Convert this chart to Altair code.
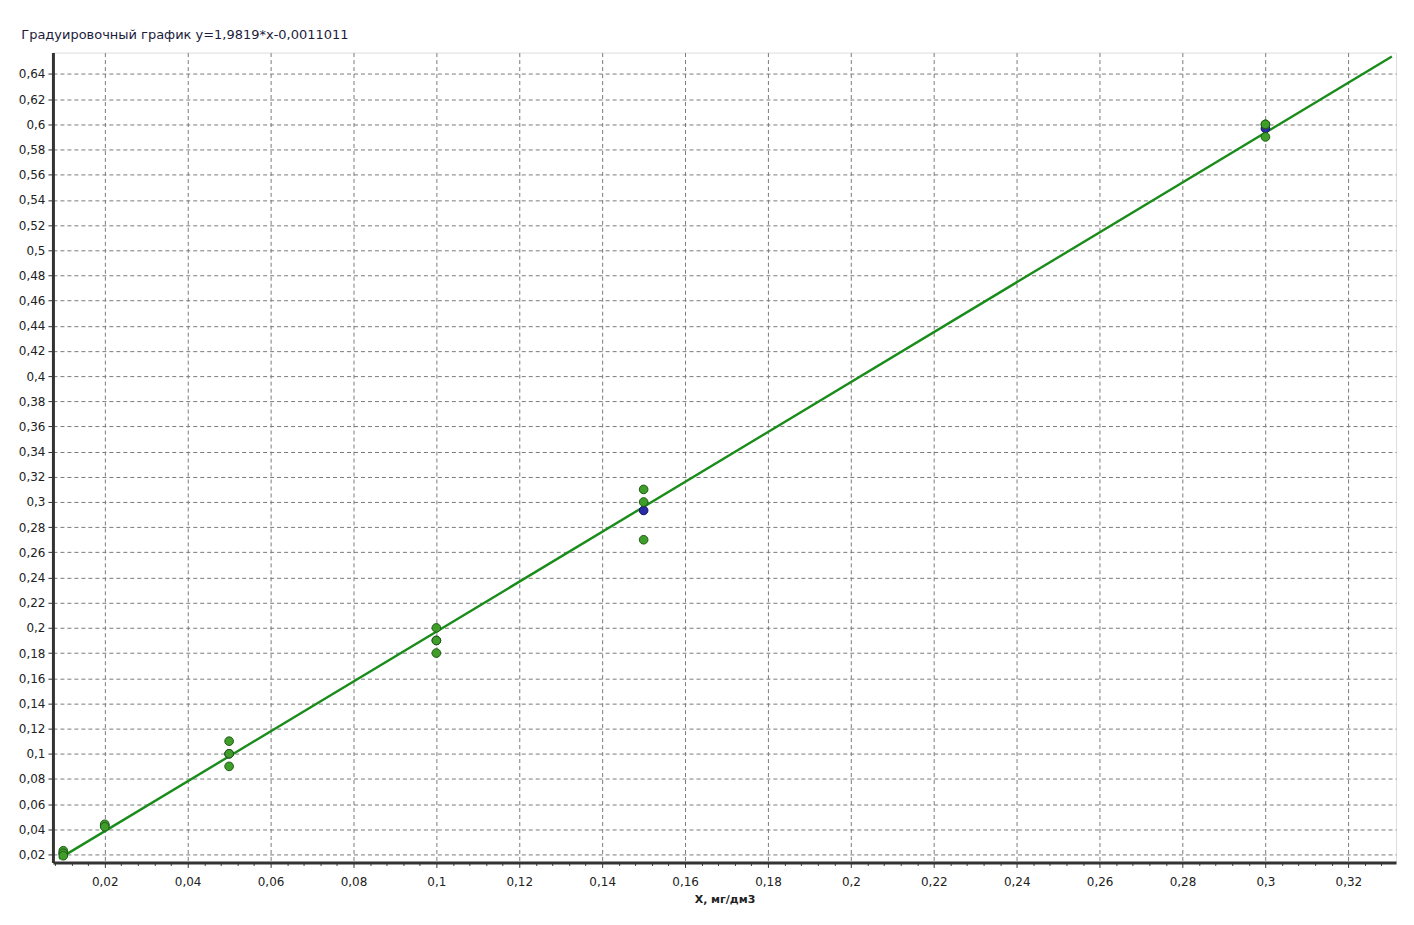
import altair as alt
import pandas as pd

# Replicate measurements (green)
x_green = [0.01, 0.01, 0.01, 0.02, 0.02, 0.05, 0.05, 0.05, 0.1, 0.1, 0.1,
           0.15, 0.15, 0.15, 0.3, 0.3, 0.3]
y_green = [0.023, 0.021, 0.019, 0.044, 0.042, 0.11, 0.10, 0.09, 0.20, 0.19, 0.18,
           0.31, 0.30, 0.27, 0.60, 0.60, 0.59]
# Mean values (blue)
x_mean = [0.01, 0.02, 0.05, 0.1, 0.15, 0.3]
y_mean = [0.021, 0.043, 0.10, 0.19, 0.2933, 0.5967]
# Calibration line end points
line_x = [0.009, 0.3305]
line_y = [0.0167, 0.6539]

x_ticks = [round(0.008 + 0.004 * i, 3) for i in range(81)]
y_major = [0.02, 0.04, 0.06, 0.08, 0.1, 0.12, 0.14, 0.16, 0.18, 0.2, 0.22, 0.24,
           0.26, 0.28, 0.3, 0.32, 0.34, 0.36, 0.38, 0.4, 0.42, 0.44, 0.46, 0.48,
           0.5, 0.52, 0.54, 0.56, 0.58, 0.6, 0.62, 0.64]

title_text = "Градуировочный график y=1,9819*x-0,0011011"
x_title = "X, мг/дм3"

green_df = pd.DataFrame({"x": x_green, "y": y_green})
mean_df = pd.DataFrame({"x": x_mean, "y": y_mean})
line_df = pd.DataFrame({"x": line_x, "y": line_y})

FONT = "DejaVu Sans"
is_major = "abs(datum.value / 0.02 - round(datum.value / 0.02)) < 0.001"
fmt = "replace(format(datum.value, '.6~g'), '.', ',')"

x_scale = alt.Scale(domain=[0.0075, 0.3315], nice=False, zero=False)
y_scale = alt.Scale(domain=[0.0137, 0.657], nice=False, zero=False)

x_axis = alt.Axis(
    values=x_ticks,
    tickCount=1000,
    labelExpr=f"{is_major} ? {fmt} : ''",
    title=x_title,
    titleFont=FONT, titleFontSize=11, titleFontWeight="bold", titleColor="#222222",
    titlePadding=6,
    labelFont=FONT, labelFontSize=12, labelColor="#222222", labelPadding=9,
    labelFlush=False, labelOverlap=False,
    domainColor="#333333", domainWidth=3,
    tickColor="#333333",
    tickSize={"condition": {"test": is_major, "value": 5}, "value": 3},
    grid=True,
    gridColor="#7a7a7a", gridDash=[4, 3], gridWidth=1,
    gridOpacity={"condition": {"test": is_major, "value": 1}, "value": 0},
)
y_axis = alt.Axis(
    values=y_major,
    tickCount=1000,
    labelExpr=fmt,
    title=None,
    labelFont=FONT, labelFontSize=12, labelColor="#222222", labelPadding=3,
    labelFlush=False, labelOverlap=False,
    domainColor="#333333", domainWidth=3,
    tickColor="#333333", tickSize=5,
    grid=True, gridColor="#7a7a7a", gridDash=[4, 3], gridWidth=1,
)

base_x = alt.X("x:Q", scale=x_scale, axis=x_axis)
base_y = alt.Y("y:Q", scale=y_scale, axis=y_axis)

line = alt.Chart(line_df).mark_line(color="#1a8c1a", strokeWidth=2.4).encode(
    x=base_x, y=base_y
)
means = alt.Chart(mean_df).mark_point(
    shape="circle", filled=True, size=75, fill="#2a2aa8", stroke="#14145a",
    strokeWidth=1, opacity=1
).encode(x="x:Q", y="y:Q")
greens = alt.Chart(green_df).mark_point(
    shape="circle", filled=True, size=75, fill="#3f9e2a", stroke="#1e5a12",
    strokeWidth=1, opacity=1
).encode(x="x:Q", y="y:Q")

chart = alt.layer(line, means, greens).properties(
    width=1345,
    height=811,
    title=alt.TitleParams(
        text=title_text, anchor="start", font=FONT, fontSize=13,
        fontWeight="normal", color="#1c1c3c", dx=3, offset=10,
    ),
    autosize=alt.AutoSizeParams(type="none"),
    padding={"left": 45, "top": 44, "right": 10, "bottom": 50},
).configure_view(stroke=None).configure(background="white")

chart.save("out.html", embed_options={"renderer": "svg", "actions": False})
